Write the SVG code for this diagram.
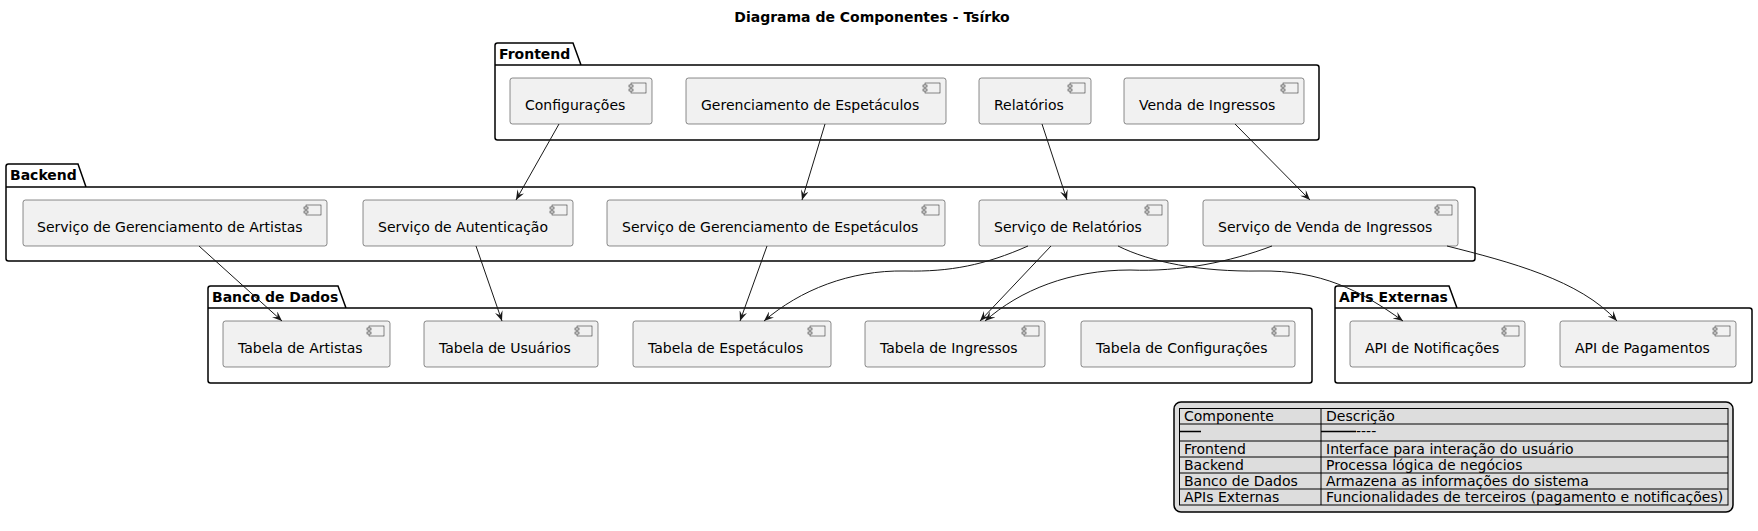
<svg xmlns="http://www.w3.org/2000/svg" xmlns:xlink="http://www.w3.org/1999/xlink" width="1758" height="531" viewBox="0 0 1758 531">
<style>
text{font-family:"DejaVu Sans","Liberation Sans",sans-serif;font-size:14px;fill:#000}
.title,.pkt{font-weight:bold}
.pkg{fill:none;stroke:#000;stroke-width:1.5}
.box{fill:#F1F1F1;stroke:#181818;stroke-width:0.5}
.ic{fill:#F1F1F1;stroke:#181818;stroke-width:0.5}
.edge{fill:none;stroke:#181818;stroke-width:1;marker-end:url(#ah)}
.lg{fill:#DDDDDD;stroke:#000;stroke-width:1.5}
.tl{stroke:#000;stroke-width:1;fill:none}
</style>
<defs>
<marker id="ah" viewBox="0 0 10 8" refX="10" refY="4" markerWidth="10" markerHeight="8" markerUnits="userSpaceOnUse" orient="auto">
<path d="M0,0 L10,4 L0,8 L4,4 Z" fill="#181818"/>
</marker>
<g id="ico">
<rect class="ic" x="-21" y="5" width="15" height="10"/>
<rect class="ic" x="-23" y="7" width="4" height="2"/>
<rect class="ic" x="-23" y="11" width="4" height="2"/>
</g>
</defs>
<rect width="1758" height="531" fill="#fff"/>
<text class="title" x="872" y="22" text-anchor="middle">Diagrama de Componentes - Tsírko</text>

<g id="pkg-frontend">
<path class="pkg" d="M495,65 V45.5 Q495,43 497.5,43 H573 L581,65 H1316.5 Q1319,65 1319,67.5 V137.5 Q1319,140 1316.5,140 H497.5 Q495,140 495,137.5 Z M495,65 H581"/>
<text class="pkt" x="499" y="59">Frontend</text>
</g>
<g id="pkg-backend">
<path class="pkg" d="M6,187 V166.5 Q6,164 8.5,164 H78 L86,187 H1472.5 Q1475,187 1475,189.5 V258.5 Q1475,261 1472.5,261 H8.5 Q6,261 6,258.5 Z M6,187 H86"/>
<text class="pkt" x="10" y="180">Backend</text>
</g>
<g id="pkg-banco">
<path class="pkg" d="M208,308 V288.5 Q208,286 210.5,286 H338 L346,308 H1309.5 Q1312,308 1312,310.5 V380.5 Q1312,383 1309.5,383 H210.5 Q208,383 208,380.5 Z M208,308 H346"/>
<text class="pkt" x="212" y="302">Banco de Dados</text>
</g>
<g id="pkg-apis">
<path class="pkg" d="M1335,308 V288.5 Q1335,286 1337.5,286 H1449 L1457,308 H1749.5 Q1752,308 1752,310.5 V380.5 Q1752,383 1749.5,383 H1337.5 Q1335,383 1335,380.5 Z M1335,308 H1457"/>
<text class="pkt" x="1339" y="302">APIs Externas</text>
</g>

<g id="fe-config"><rect class="box" x="510" y="78" width="142" height="46" rx="2.5"/><use xlink:href="#ico" x="652" y="78"/><text x="525" y="110">Configurações</text></g>
<g id="fe-espetaculos"><rect class="box" x="686" y="78" width="260" height="46" rx="2.5"/><use xlink:href="#ico" x="946" y="78"/><text x="701" y="110">Gerenciamento de Espetáculos</text></g>
<g id="fe-relatorios"><rect class="box" x="979" y="78" width="112" height="46" rx="2.5"/><use xlink:href="#ico" x="1091" y="78"/><text x="994" y="110">Relatórios</text></g>
<g id="fe-venda"><rect class="box" x="1124" y="78" width="180" height="46" rx="2.5"/><use xlink:href="#ico" x="1304" y="78"/><text x="1139" y="110">Venda de Ingressos</text></g>

<g id="be-artistas"><rect class="box" x="23" y="200" width="304" height="46" rx="2.5"/><use xlink:href="#ico" x="327" y="200"/><text x="37" y="232">Serviço de Gerenciamento de Artistas</text></g>
<g id="be-auth"><rect class="box" x="363" y="200" width="210" height="46" rx="2.5"/><use xlink:href="#ico" x="573" y="200"/><text x="378" y="232">Serviço de Autenticação</text></g>
<g id="be-espetaculos"><rect class="box" x="607" y="200" width="338" height="46" rx="2.5"/><use xlink:href="#ico" x="945" y="200"/><text x="622" y="232">Serviço de Gerenciamento de Espetáculos</text></g>
<g id="be-relatorios"><rect class="box" x="979" y="200" width="189" height="46" rx="2.5"/><use xlink:href="#ico" x="1168" y="200"/><text x="994" y="232">Serviço de Relatórios</text></g>
<g id="be-venda"><rect class="box" x="1203" y="200" width="255" height="46" rx="2.5"/><use xlink:href="#ico" x="1458" y="200"/><text x="1218" y="232">Serviço de Venda de Ingressos</text></g>

<g id="db-artistas"><rect class="box" x="223" y="321" width="167" height="46" rx="2.5"/><use xlink:href="#ico" x="390" y="321"/><text x="238" y="353">Tabela de Artistas</text></g>
<g id="db-usuarios"><rect class="box" x="424" y="321" width="174" height="46" rx="2.5"/><use xlink:href="#ico" x="598" y="321"/><text x="439" y="353">Tabela de Usuários</text></g>
<g id="db-espetaculos"><rect class="box" x="633" y="321" width="198" height="46" rx="2.5"/><use xlink:href="#ico" x="831" y="321"/><text x="648" y="353">Tabela de Espetáculos</text></g>
<g id="db-ingressos"><rect class="box" x="865" y="321" width="180" height="46" rx="2.5"/><use xlink:href="#ico" x="1045" y="321"/><text x="880" y="353">Tabela de Ingressos</text></g>
<g id="db-config"><rect class="box" x="1081" y="321" width="214" height="46" rx="2.5"/><use xlink:href="#ico" x="1295" y="321"/><text x="1096" y="353">Tabela de Configurações</text></g>

<g id="api-notif"><rect class="box" x="1350" y="321" width="175" height="46" rx="2.5"/><use xlink:href="#ico" x="1525" y="321"/><text x="1365" y="353">API de Notificações</text></g>
<g id="api-pag"><rect class="box" x="1560" y="321" width="176" height="46" rx="2.5"/><use xlink:href="#ico" x="1736" y="321"/><text x="1575" y="353">API de Pagamentos</text></g>

<g id="connectors">
<path class="edge" d="M559,124 L516,200"/>
<path class="edge" d="M825,124 L802,200"/>
<path class="edge" d="M1042,124 L1067,200"/>
<path class="edge" d="M1235,124 L1310,200"/>
<path class="edge" d="M199,246 L282,321"/>
<path class="edge" d="M476,246 L502,321"/>
<path class="edge" d="M767,246 L740,321"/>
<path class="edge" d="M1028,246 C985,265 950,272 905,271 C850,270 800,290 764,321"/>
<path class="edge" d="M1051,246 L980,321"/>
<path class="edge" d="M1272,246 C1230,262 1180,272 1130,270 C1070,270 1020,290 985,321"/>
<path class="edge" d="M1118,246 C1150,262 1200,272 1260,271 C1320,270 1360,290 1403,321"/>
<path class="edge" d="M1447,246 C1510,262 1580,280 1617,321"/>
</g>

<g id="legend">
<rect class="lg" x="1174" y="402" width="559" height="110" rx="7"/>
<rect class="tl" x="1179.5" y="408.5" width="548.5" height="96.5"/>
<path class="tl" d="M1321,408.5 V505 M1179.5,424 H1728 M1179.5,441 H1728 M1179.5,457 H1728 M1179.5,473 H1728 M1179.5,489 H1728"/>
<path d="M1180,431.5 H1201 M1321,431.5 H1356" stroke="#000" stroke-width="1.6"/>
<text x="1184" y="420.5">Componente</text>
<text x="1326" y="420.5">Descrição</text>
<text x="1356" y="436">----</text>
<text x="1184" y="453.5">Frontend</text>
<text x="1326" y="453.5">Interface para interação do usuário</text>
<text x="1184" y="469.5">Backend</text>
<text x="1326" y="469.5">Processa lógica de negócios</text>
<text x="1184" y="485.5">Banco de Dados</text>
<text x="1326" y="485.5">Armazena as informações do sistema</text>
<text x="1184" y="501.5">APIs Externas</text>
<text x="1326" y="501.5">Funcionalidades de terceiros (pagamento e notificações)</text>
</g>
</svg>
